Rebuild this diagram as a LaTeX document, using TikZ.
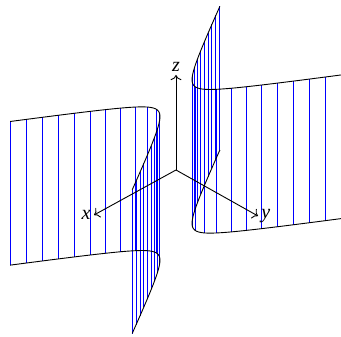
\documentclass[tikz,border=0pt]{standalone}
\usepackage{fontspec}
\setmainfont{Liberation Serif}
\usetikzlibrary{arrows.meta}
\begin{document}
\begin{tikzpicture}[
        x={(-41pt,-22.5pt)}, y={(41pt,-23pt)}, z={(0pt,47.5pt)},
        rim/.style={draw=black, line width=0.45pt},
        ruling/.style={draw=blue, line width=0.5pt},
        axis/.style={draw=black, ->, line width=0.45pt},
        lab/.style={font=\itshape, inner sep=1.5pt}
    ]
    \useasboundingbox (-88pt,-83pt) rectangle (82.5pt,85pt);

    % Mantellinien (beide Aeste)
    \draw[ruling] \foreach \s in {1,-1} {
        \foreach \i in {-10,...,10} {
            ({\s*0.243*sqrt(1+(0.0744*\i/0.144)^2)}, {\s*0.0744*\i}, -0.756)
            -- ({\s*0.243*sqrt(1+(0.0744*\i/0.144)^2)}, {\s*0.0744*\i}, 0.756)
        }
    };

    % Randkurven oben und unten
    \foreach \s in {1,-1} {
        \foreach \zz in {0.756,-0.756} {
            \draw[rim] plot[domain=-0.744:0.744, samples=81]
                ({\s*0.243*sqrt(1+(\x/0.144)^2)}, {\x}, {\zz});
        }
    }

    % Achsen
    \coordinate (o) at (0,0,0);
    \coordinate (xtip) at (1,0,0);
    \coordinate (ytip) at (0,1,0);
    \coordinate (ztip) at (0,0,1);

    \draw[axis] (o) -- (xtip);
    \draw[axis] (o) -- (ytip);
    \draw[axis] (o) -- (ztip);

    \node[lab] (xlab) at (xtip) [left] {x};
    \node[lab] (ylab) at (ytip) [right] {y};
    \node[lab] (zlab) at (ztip) [above] {z};

\end{tikzpicture}
\end{document}
